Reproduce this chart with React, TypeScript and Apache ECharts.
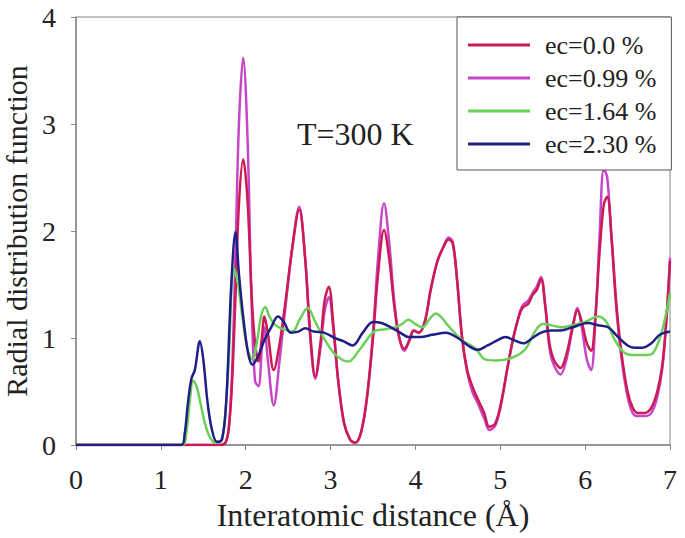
import React, { useEffect, useRef } from "react";
import * as echarts from "echarts";

const seriesNames = ["ec=0.0 %", "ec=0.99 %", "ec=1.64 %", "ec=2.30 %"];
const xTicks = [0, 1, 2, 3, 4, 5, 6, 7];
const yTicks = [0, 1, 2, 3, 4];

// ec=0.0 % and ec=0.99 % share the same r samples
const rPure = [
  0, 1.7, 1.76, 1.8, 1.84, 1.88, 1.92, 1.97, 2.02, 2.07,
  2.11, 2.15, 2.19, 2.22, 2.26, 2.33, 2.4, 2.47, 2.55, 2.63,
  2.7, 2.76, 2.82, 2.88, 2.93, 2.98, 3.03, 3.09, 3.16, 3.23,
  3.29, 3.36, 3.43, 3.5, 3.56, 3.63, 3.69, 3.75, 3.81, 3.87,
  3.93, 3.98, 4.04, 4.11, 4.18, 4.26, 4.33, 4.39, 4.44, 4.49,
  4.55, 4.61, 4.67, 4.74, 4.81, 4.87, 4.94, 5.01, 5.08, 5.14,
  5.2, 5.26, 5.33, 5.38, 5.43, 5.48, 5.53, 5.58, 5.63, 5.71,
  5.78, 5.85, 5.91, 5.96, 6.02, 6.07, 6.12, 6.17, 6.22, 6.26,
  6.31, 6.37, 6.43, 6.5, 6.56, 6.62, 6.7, 6.78, 6.85, 6.91,
  6.96, 7.0,
];
const gEc000 = [
  0, 0, 0.02, 0.15, 0.6, 1.4, 2.25, 2.67, 2.3, 1.4,
  0.95, 0.78, 1.0, 1.2, 1.05, 0.7, 0.95, 1.35, 1.85, 2.2,
  1.75, 1.05, 0.64, 0.95, 1.35, 1.48, 1.15, 0.6, 0.2, 0.05,
  0.02, 0.12, 0.45, 1.0, 1.6, 2.01, 1.75, 1.3, 1.0, 0.9,
  0.98, 1.07, 1.05, 1.15, 1.45, 1.72, 1.85, 1.92, 1.88, 1.55,
  1.0, 0.7, 0.55, 0.42, 0.3, 0.17, 0.2, 0.4, 0.7, 0.95,
  1.15, 1.28, 1.32, 1.4, 1.45, 1.55, 1.3, 0.95, 0.8, 0.72,
  0.85, 1.1, 1.26, 1.15, 0.95, 0.88, 1.2, 1.8, 2.25, 2.32,
  1.95, 1.3, 0.85, 0.5, 0.35, 0.3, 0.3, 0.35, 0.5, 0.75,
  1.2, 1.72,
];
const gEc099 = [
  0, 0, 0.02, 0.15, 0.7, 1.8, 3.0, 3.62, 2.9, 1.3,
  0.6, 0.55, 0.9, 1.1, 0.8, 0.37, 0.8, 1.3, 1.85, 2.23,
  1.75, 1.0, 0.62, 0.9, 1.25, 1.38, 1.1, 0.6, 0.2, 0.05,
  0.02, 0.12, 0.45, 1.05, 1.75, 2.26, 1.9, 1.35, 1.0, 0.88,
  0.98, 1.07, 1.05, 1.15, 1.45, 1.72, 1.85, 1.94, 1.9, 1.55,
  1.0, 0.68, 0.5, 0.38, 0.25, 0.14, 0.18, 0.38, 0.7, 0.95,
  1.15, 1.3, 1.35, 1.42, 1.48, 1.57, 1.3, 0.9, 0.75, 0.66,
  0.8, 1.08, 1.28, 1.1, 0.8, 0.7, 1.15, 1.95, 2.58, 2.5,
  1.95, 1.25, 0.8, 0.45, 0.3, 0.27, 0.27, 0.3, 0.45, 0.72,
  1.2, 1.75,
];

const rEc164 = [
  0, 1.25, 1.3, 1.34, 1.38, 1.42, 1.47, 1.52, 1.58, 1.65,
  1.71, 1.75, 1.8, 1.86, 1.91, 1.96, 2.02, 2.08, 2.13, 2.18,
  2.23, 2.28, 2.35, 2.45, 2.55, 2.64, 2.73, 2.82, 2.92, 3.05,
  3.21, 3.35, 3.51, 3.62, 3.71, 3.82, 3.92, 4.0, 4.08, 4.17,
  4.24, 4.3, 4.38, 4.55, 4.71, 4.82, 4.95, 5.15, 5.3, 5.4,
  5.5, 5.6, 5.72, 5.85, 6.0, 6.15, 6.25, 6.35, 6.45, 6.55,
  6.7, 6.8, 6.9, 6.96, 7.0,
];
const gEc164 = [
  0, 0, 0.12, 0.4, 0.6, 0.55, 0.38, 0.2, 0.07, 0.02,
  0.04, 0.2, 0.8, 1.65, 1.5, 1.2, 0.9, 0.8, 0.95, 1.2,
  1.29, 1.2, 1.12, 1.08, 1.06, 1.18, 1.28, 1.15, 1.0, 0.85,
  0.78, 0.9, 1.06, 1.08, 1.09, 1.12, 1.17, 1.13, 1.1, 1.18,
  1.23, 1.2, 1.12, 0.98, 0.9, 0.8, 0.79, 0.82, 0.9, 1.05,
  1.13, 1.12, 1.1, 1.12, 1.15, 1.2, 1.15, 0.98, 0.87, 0.84,
  0.84, 0.86, 1.05, 1.25, 1.42,
];

const rEc230 = [
  0, 1.24, 1.28, 1.32, 1.36, 1.4, 1.46, 1.5, 1.55, 1.6,
  1.66, 1.72, 1.77, 1.83, 1.88, 1.92, 1.97, 2.03, 2.08, 2.14,
  2.22, 2.3, 2.38, 2.45, 2.53, 2.62, 2.7, 2.8, 2.92, 3.05,
  3.15, 3.26, 3.38, 3.5, 3.6, 3.71, 3.82, 3.92, 4.06, 4.2,
  4.36, 4.5, 4.62, 4.73, 4.85, 4.97, 5.06, 5.16, 5.27, 5.38,
  5.48, 5.6, 5.71, 5.85, 6.03, 6.15, 6.27, 6.4, 6.5, 6.58,
  6.68, 6.78, 6.88, 7.0,
];
const gEc230 = [
  0, 0, 0.1, 0.4, 0.62, 0.7, 0.97, 0.8, 0.4, 0.15,
  0.03, 0.05, 0.4, 1.5, 1.99, 1.6, 1.2, 0.85, 0.75, 0.82,
  0.98, 1.1, 1.2, 1.15, 1.05, 1.06, 1.09, 1.06, 1.05, 1.0,
  0.97, 0.93, 1.05, 1.15, 1.14, 1.1, 1.05, 1.01, 1.01, 1.03,
  1.05, 1.0, 0.93, 0.89, 0.93, 0.98, 1.01, 0.98, 0.95, 1.0,
  1.05, 1.07, 1.07, 1.1, 1.14, 1.12, 1.1, 1.0, 0.93, 0.91,
  0.91, 0.95, 1.03, 1.06,
];

const seriesR = [rPure, rPure, rEc164, rEc230];
const seriesG = [gEc000, gEc099, gEc164, gEc230];
const seriesColors = ["#cc1a55", "#c645c8", "#6ccf5a", "#1f1f85"];
const seriesZ = [3, 2, 4, 5];

const FONT = '"Liberation Serif", "Times New Roman", serif';

export default function App() {
  const ref = useRef<HTMLDivElement>(null);

  useEffect(() => {
    if (!ref.current) return;
    const chart = echarts.init(ref.current, null, { renderer: "svg" });
    const series = seriesNames.map((name, i) => ({
      name,
      type: "line",
      data: seriesR[i].map((r, j) => [r, seriesG[i][j]]),
      smooth: 0.35,
      showSymbol: false,
      symbol: "none",
      z: seriesZ[i],
      lineStyle: { color: seriesColors[i], width: 2.5 },
      itemStyle: { color: seriesColors[i] },
    }));
    chart.setOption({
      animation: false,
      backgroundColor: "#ffffff",
      grid: {
        left: 76,
        right: 15,
        top: 17,
        bottom: 93,
        show: true,
        borderColor: "#888",
        borderWidth: 1,
        containLabel: false,
        outerBoundsMode: "none",
      },
      xAxis: {
        type: "value",
        min: xTicks[0],
        max: xTicks[xTicks.length - 1],
        interval: 1,
        name: "Interatomic distance (Å)",
        nameLocation: "middle",
        nameGap: 54,
        nameTextStyle: { fontFamily: FONT, fontSize: 32, color: "#222" },
        axisLine: { lineStyle: { color: "#888", width: 1.5 } },
        axisTick: { show: true, inside: false, length: 5, lineStyle: { color: "#888" } },
        axisLabel: { fontFamily: FONT, fontSize: 28, color: "#222", margin: 20 },
        splitLine: { show: false },
      },
      yAxis: {
        type: "value",
        min: yTicks[0],
        max: yTicks[yTicks.length - 1],
        interval: 1,
        name: "Radial distribution function",
        nameLocation: "middle",
        nameGap: 30,
        nameTextStyle: { fontFamily: FONT, fontSize: 30, color: "#222", lineHeight: 30 },
        axisLine: { show: true, lineStyle: { color: "#888", width: 1.5 } },
        axisTick: { show: true, inside: false, length: 5, lineStyle: { color: "#888" } },
        axisLabel: { fontFamily: FONT, fontSize: 28, color: "#222", margin: 20 },
        splitLine: { show: false },
      },
      legend: {
        orient: "vertical",
        left: 457,
        top: 17,
        padding: [15, 15, 13, 11],
        itemWidth: 62,
        itemHeight: 3,
        itemGap: 7,
        icon: "rect",
        backgroundColor: "#ffffff",
        borderColor: "#555",
        borderWidth: 1,
        z: 20,
        data: seriesNames,
        textStyle: {
          fontFamily: FONT,
          fontSize: 26,
          color: "#222",
          lineHeight: 26,
          padding: [0, 0, 0, 10],
        },
      },
      graphic: [
        {
          type: "text",
          left: 297,
          top: 118,
          style: {
            text: "T=300 K",
            font: `32px ${FONT}`,
            fill: "#222",
          },
        },
      ],
      series,
    });
    return () => chart.dispose();
  }, []);

  return (
    <div
      ref={ref}
      style={{ position: "fixed", left: 0, top: 0, width: 685, height: 538 }}
    />
  );
}
